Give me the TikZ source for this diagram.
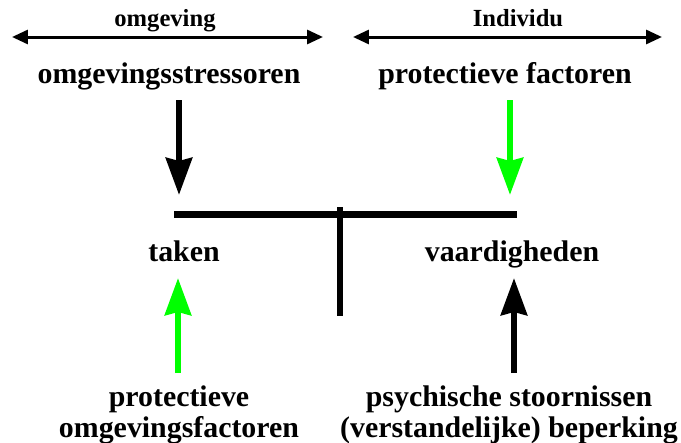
\documentclass[tikz,border=0pt]{standalone}
\usepackage{fontspec}
\setmainfont{Liberation Serif}
\usetikzlibrary{arrows.meta,positioning}

\tikzset{
  lbl/.style={font=\bfseries\fontsize{17}{17.6}\selectfont, anchor=base, inner sep=0pt, align=center},
  toplbl/.style={font=\bfseries\fontsize{14}{16}\selectfont, anchor=base, inner sep=0pt},
  bigarrow/.style={line width=0.13cm, -{Stealth[length=0.74cm,width=0.52cm,inset=0.06cm]}},
  span/.style={line width=0.06cm, {Triangle[length=0.32cm,width=0.28cm]}-{Triangle[length=0.32cm,width=0.28cm]}},
  bar/.style={line width=0.14cm}
}

\begin{document}
\begin{tikzpicture}[x=0.02cm,y=-0.02cm]
\useasboundingbox (0,0) rectangle (681,443);

% top ranges
\node[toplbl] (omg) at (165,26) {omgeving};
\node[toplbl] (indiv) at (518,26) {Individu};
\coordinate (omgL) at (12,37);
\coordinate (omgR) at (323,37);
\coordinate (indL) at (353,37);
\coordinate (indR) at (662,37);
\draw[span] (omgL) -- (omgR);
\draw[span] (indL) -- (indR);

% labels
\node[lbl] (stress) at (169,83) {omgevingsstressoren};
\node[lbl] (protf) at (505,83) {protectieve factoren};
\node[lbl] (taken) at (184,261) {taken};
\node[lbl] (vaard) at (512,261) {vaardigheden};
\node[lbl] (protomg) at (179,437) {protectieve\\omgevingsfactoren};
\node[lbl] (psych) at (509,437) {psychische stoornissen\\(verstandelijke) beperking};

% balance
\coordinate (barL) at (174,214.5);
\coordinate (barR) at (517,214.5);
\coordinate (postT) at (340,207);
\coordinate (postB) at (340,316);
\draw[bar] (barL) -- (barR);
\draw[bar] (postT) -- (postB);

% arrows onto the balance
\coordinate (a1) at (179,100);  \coordinate (a1e) at (179,195);
\coordinate (a2) at (510,100);  \coordinate (a2e) at (510,195);
\coordinate (a3) at (178,373);  \coordinate (a3e) at (178,278);
\coordinate (a4) at (514,373);  \coordinate (a4e) at (514,278);
\draw[bigarrow] (a1) -- (a1e);
\draw[bigarrow, green] (a2) -- (a2e);
\draw[bigarrow, green] (a3) -- (a3e);
\draw[bigarrow] (a4) -- (a4e);
\end{tikzpicture}
\end{document}
